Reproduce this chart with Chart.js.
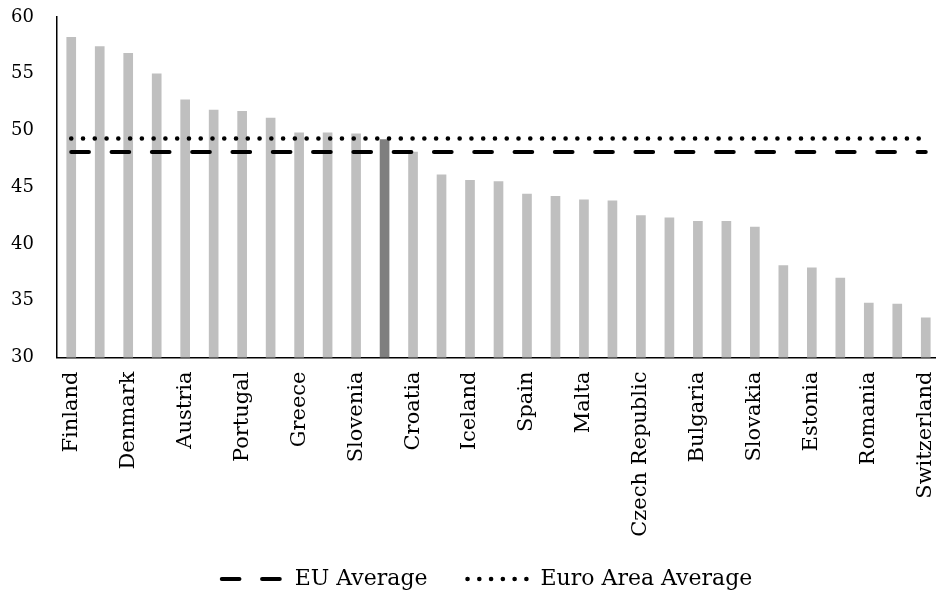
<!DOCTYPE html>
<html>
<head>
<meta charset="utf-8">
<script src="https://cdn.jsdelivr.net/npm/chart.js@4/dist/chart.umd.min.js"></script>
<style>
  html, body { margin: 0; padding: 0; background: #fff; overflow: hidden; }
  #wrap { width: 940px; height: 596px; }
</style>
</head>
<body>
<div id="wrap"><canvas id="c"></canvas></div>
<script>
// Total general government expenditure, % of GDP
const countries = [
  'Finland', 'France', 'Denmark', 'Belgium', 'Austria', 'Sweden', 'Portugal', 'Italy',
  'Greece', 'Norway', 'Slovenia', 'Hungary', 'Croatia', 'Netherlands', 'Iceland',
  'United Kingdom', 'Spain', 'Germany', 'Malta', 'Cyprus', 'Czech Republic', 'Poland',
  'Bulgaria', 'Luxembourg', 'Slovakia', 'Latvia', 'Estonia', 'Lithuania', 'Romania',
  'Ireland', 'Switzerland'
];
const expenditure = [
  58.2, 57.4, 56.8, 55.0, 52.7, 51.8, 51.7, 51.1,
  49.8, 49.8, 49.7, 49.2, 48.1, 46.1, 45.6,
  45.5, 44.4, 44.2, 43.9, 43.8, 42.5, 42.3,
  42.0, 42.0, 41.5, 38.1, 37.9, 37.0, 34.8,
  34.7, 33.5
];
const highlighted = 'Hungary';
const euAverage = 48.1;
const euroAreaAverage = 49.3;
const yTicks = [30, 35, 40, 45, 50, 55, 60];

const serif = 'DejaVu Serif';
const barColors = countries.map(c => c === highlighted ? '#7f7f7f' : '#bfbfbf');
const first = countries[0], last = countries[countries.length - 1];

// Legend entries for the reference lines keep the dataset's dash pattern and caps
function lineLegendLabels(chart) {
  const items = Chart.defaults.plugins.legend.labels.generateLabels(chart);
  return items
    .filter(item => chart.data.datasets[item.datasetIndex].type === 'line')
    .map(item => {
      const ds = chart.data.datasets[item.datasetIndex];
      item.lineDash = ds.borderDash;
      item.lineCap = ds.borderCapStyle;
      item.lineWidth = ds.borderWidth;
      item.strokeStyle = ds.borderColor;
      item.pointStyle = 'line';
      return item;
    });
}

// Wide item spacing pads the legend vertically too, so pull the row back up and a bit right
const legendNudge = {
  id: 'legendNudge',
  afterLayout(chart) {
    const lg = chart.legend;
    if (!lg) return;
    const dx = 17, dy = -30;
    lg.left += dx; lg.right += dx;
    lg.top += dy; lg.bottom += dy;
    (lg.legendHitBoxes || []).forEach(h => { h.left += dx; h.top += dy; });
  }
};

new Chart(document.getElementById('c'), {
  type: 'bar',
  data: {
    labels: countries,
    datasets: [
      {
        type: 'line',
        label: 'EU Average',
        data: [{ x: first, y: euAverage }, { x: last, y: euAverage }],
        borderColor: '#000',
        backgroundColor: '#000',
        borderWidth: 4,
        borderDash: [17.7, 22.6],
        borderCapStyle: 'round',
        pointRadius: 0,
        order: 0
      },
      {
        type: 'line',
        label: 'Euro Area Average',
        data: [{ x: first, y: euroAreaAverage }, { x: last, y: euroAreaAverage }],
        borderColor: '#000',
        backgroundColor: '#000',
        borderWidth: 4.6,
        borderDash: [0.01, 11.76],
        borderCapStyle: 'round',
        pointRadius: 0,
        order: 0
      },
      {
        type: 'bar',
        label: 'Expenditure',
        data: expenditure,
        backgroundColor: barColors,
        barThickness: 9,
        order: 1
      }
    ]
  },
  plugins: [legendNudge],
  options: {
    responsive: true,
    maintainAspectRatio: false,
    animation: false,
    layout: { padding: { top: 17, left: 0, right: 0, bottom: -34 } },
    plugins: {
      tooltip: { enabled: false },
      legend: {
        position: 'bottom',
        labels: {
          generateLabels: lineLegendLabels,
          usePointStyle: true,
          pointStyleWidth: 62,
          color: '#000',
          padding: 40,
          font: { family: serif, size: 22 }
        }
      }
    },
    scales: {
      x: {
        grid: { display: false, drawTicks: false },
        border: { display: true, color: '#000', width: 1.5 },
        ticks: {
          autoSkip: false,
          minRotation: 90,
          maxRotation: 90,
          padding: 14,
          color: '#000',
          font: { family: serif, size: 21 },
          callback: function (value, index) {
            return index % 2 === 0 ? this.getLabelForValue(value) : '';
          }
        },
        afterFit: s => { s.height = 200.5; s.paddingLeft = 0; s.paddingRight = 0; }
      },
      y: {
        min: 30,
        max: 60,
        afterBuildTicks: s => { s.ticks = yTicks.map(v => ({ value: v })); },
        grid: { display: false, drawTicks: false },
        border: { display: true, color: '#000', width: 1.5 },
        ticks: {
          padding: 23,
          color: '#000',
          font: { family: serif, size: 18 }
        },
        afterFit: s => { s.width = 57; s.paddingTop = 0; s.paddingBottom = 0; }
      }
    }
  }
});
</script>
</body>
</html>
